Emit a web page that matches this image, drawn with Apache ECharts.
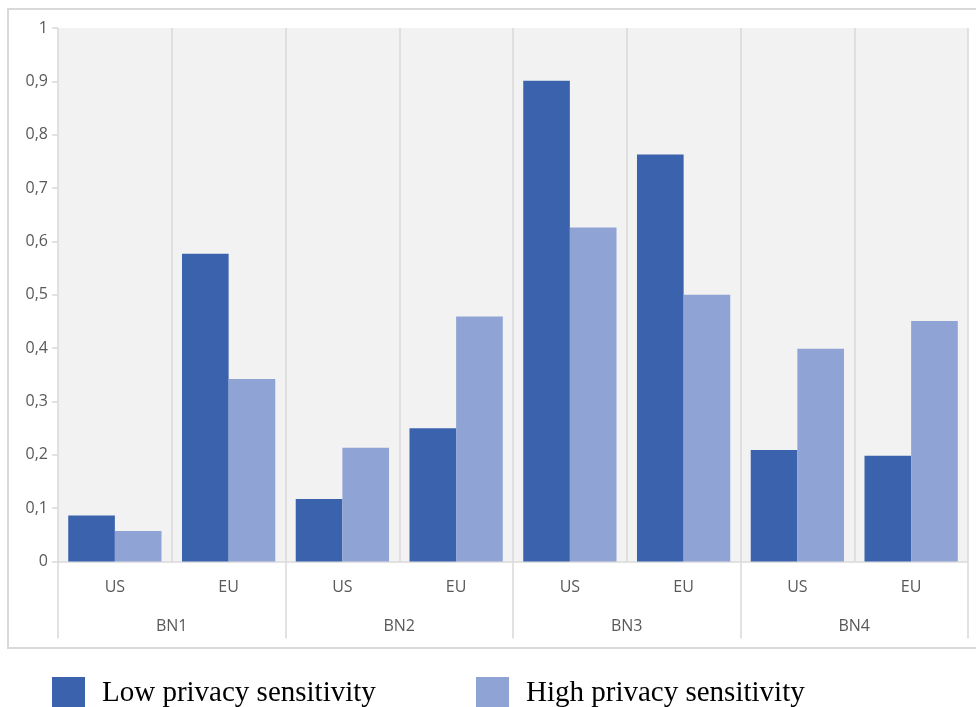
<!DOCTYPE html>
<html>
<head>
<meta charset="utf-8">
<script src="https://cdn.jsdelivr.net/npm/echarts@6/dist/echarts.min.js"></script>
<style>
html,body{margin:0;padding:0;background:#fff;}
#chart{width:976px;height:707px;}
</style>
</head>
<body>
<div id="chart"></div>
<script>
const regions = ['US','EU','US','EU','US','EU','US','EU'];
const groups = ['BN1','BN2','BN3','BN4'];
const seriesNames = ['Low privacy sensitivity','High privacy sensitivity'];
const lowValues = [0.086, 0.577, 0.117, 0.250, 0.901, 0.763, 0.209, 0.198];
const highValues = [0.057, 0.342, 0.213, 0.459, 0.626, 0.500, 0.399, 0.451];
const colors = ['#3b63ad', '#8fa3d4'];

const chart = echarts.init(document.getElementById('chart'), null, {renderer:'canvas'});
const gridLine = '#d9d9d9';
const labelColor = '#595959';
const sans = "'Open Sans', 'Noto Sans', sans-serif";

const legendBase = {
  orient:'horizontal', top:677, padding:0,
  itemWidth:33, itemHeight:33, icon:'rect',
  textStyle:{fontFamily:"'Liberation Serif', 'Times New Roman', serif", fontSize:29, color:'#000', padding:[7,0,0,12]},
  selectedMode:false
};

chart.setOption({
  animation:false,
  backgroundColor:'#fff',
  graphic:[{
    type:'rect', z:-10, silent:true,
    shape:{x:8, y:9, width:980, height:639},
    style:{fill:'#fff', stroke:gridLine, lineWidth:2}
  }],
  legend:[
    Object.assign({}, legendBase, {left:52, data:[seriesNames[0]]}),
    Object.assign({}, legendBase, {left:476, data:[seriesNames[1]]})
  ],
  grid:{left:58, right:8, top:28, bottom:145.5, show:true, backgroundColor:'#f2f2f2', borderWidth:0},
  xAxis:[{
    type:'category', data:regions, position:'bottom',
    axisLine:{show:true, lineStyle:{color:gridLine, width:1.5}},
    axisTick:{show:false},
    splitLine:{show:true, interval:0, lineStyle:{color:gridLine, width:1.5}},
    axisLabel:{interval:0, margin:18, color:labelColor, fontFamily:sans, fontSize:16}
  },{
    type:'category', data:groups, position:'bottom', offset:0,
    axisLine:{show:false},
    axisTick:{show:true, interval:0, length:77, lineStyle:{color:gridLine, width:1.5}},
    splitLine:{show:false},
    axisLabel:{interval:0, margin:57, color:labelColor, fontFamily:sans, fontSize:16}
  }],
  yAxis:{
    type:'value', min:0, max:1, interval:0.1,
    axisLine:{show:false},
    axisTick:{show:true, length:6, lineStyle:{color:gridLine, width:1.5}},
    splitLine:{show:false},
    axisLabel:{margin:10, color:labelColor, fontFamily:sans, fontSize:16,
      formatter:v => String(Math.round(v*10)/10).replace('.', ',')}
  },
  series:[{
    name:seriesNames[0], type:'bar', data:lowValues, xAxisIndex:0,
    barGap:'0%', barCategoryGap:'18%', itemStyle:{color:colors[0]}
  },{
    name:seriesNames[1], type:'bar', data:highValues, xAxisIndex:0,
    barGap:'0%', barCategoryGap:'18%', itemStyle:{color:colors[1]}
  }]
});
</script>
</body>
</html>
